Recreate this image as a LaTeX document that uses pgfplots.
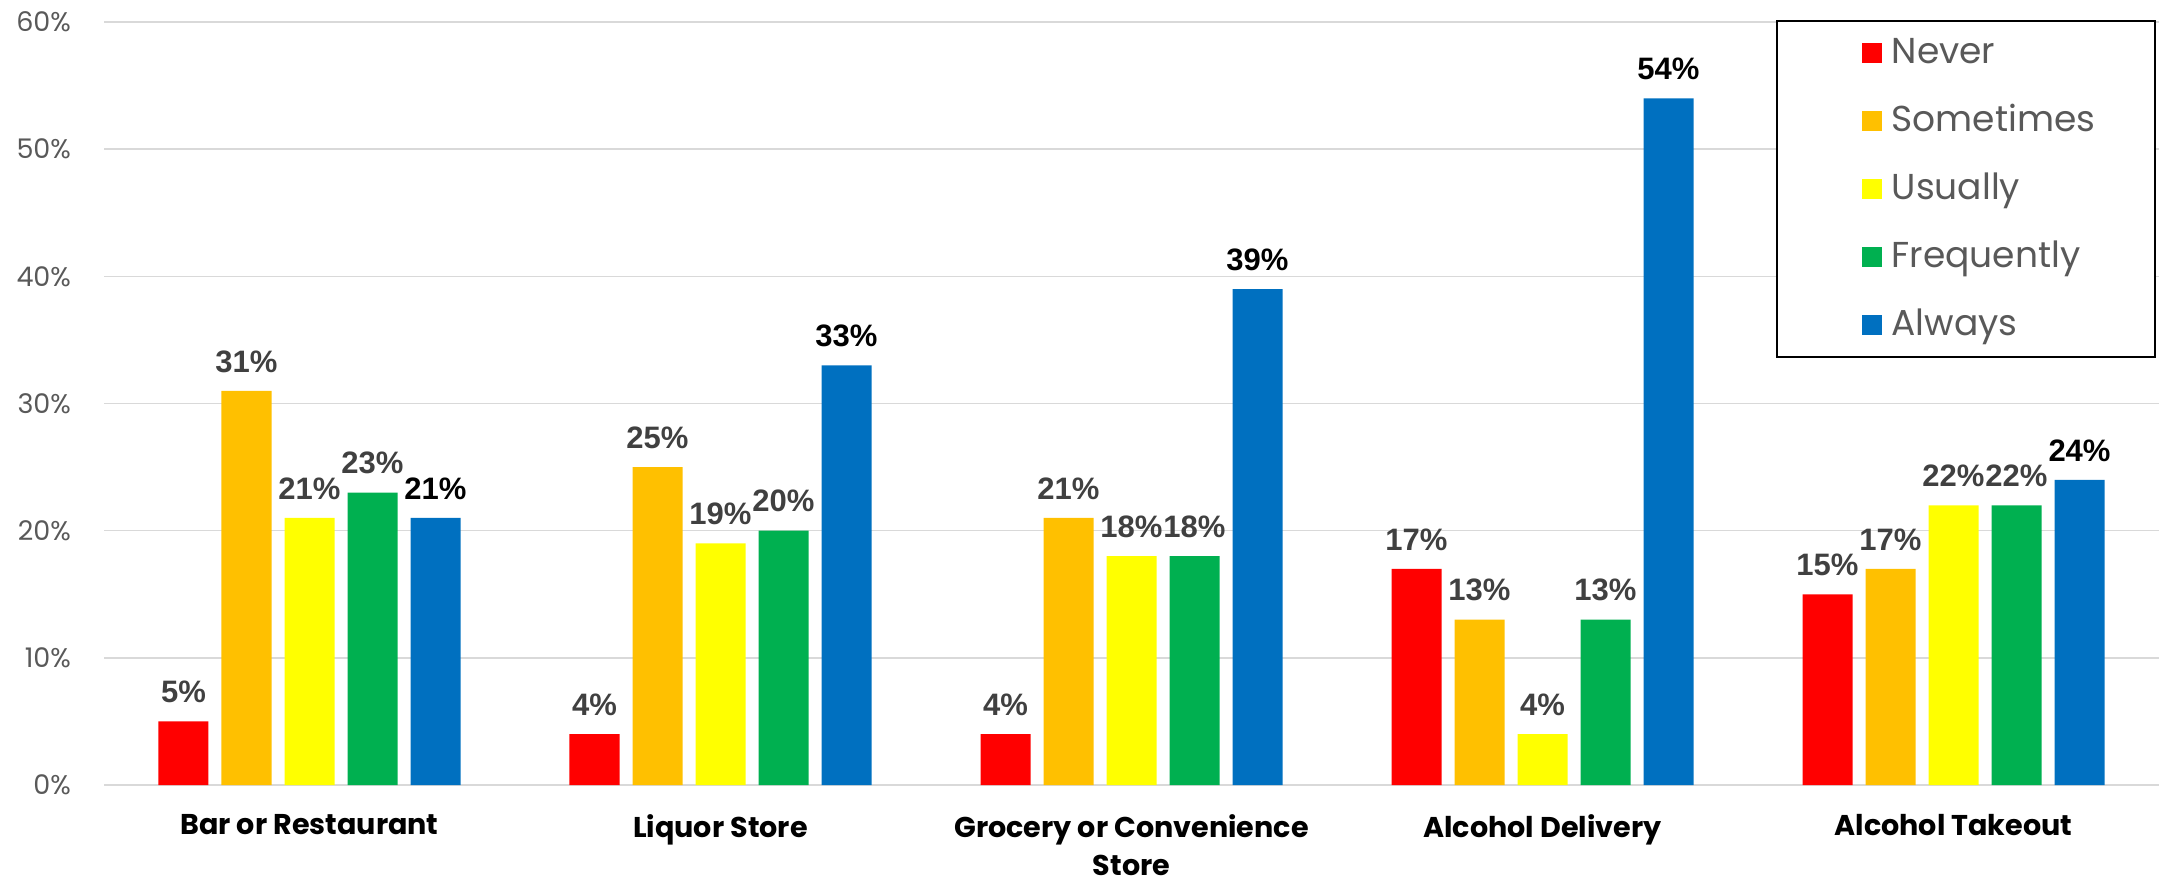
\documentclass[border=0pt]{standalone}
\usepackage{pgfplots}
\pgfplotsset{compat=1.18}
\usepackage{fontspec}
\setmainfont{Liberation Sans}
\newfontfamily\poppins{Poppins}

\definecolor{cNever}{HTML}{FF0000}
\definecolor{cSome}{HTML}{FFC000}
\definecolor{cUsual}{HTML}{FFFF00}
\definecolor{cFreq}{HTML}{00B050}
\definecolor{cAlways}{HTML}{0070C0}
\definecolor{gridgray}{HTML}{D9D9D9}
\definecolor{tickgray}{HTML}{595959}
\definecolor{labgray}{HTML}{404040}

\pgfplotsset{sq legend/.style={legend image code/.code={\path (0pt,0pt); \fill[##1] (12.5pt,-5pt) rectangle (22.5pt,5pt);}}}

\begin{document}
\begin{tikzpicture}
\begin{axis}[
  name=ax,
  scale only axis,
  width=1027.5pt, height=381.5pt,
  xmin=-0.5, xmax=4.5,
  ymin=0, ymax=60,
  ytick={0,10,...,60},
  yticklabel={\pgfmathprintnumber{\tick}\%},
  /pgf/number format/assume math mode=true,
  yticklabel style={font=\poppins\fontsize{13.5}{14}\selectfont, text=tickgray, xshift=-13pt},
  xtick={0,1,2,3,4},
  xticklabels={Bar or Restaurant, Liquor Store, {Grocery or Convenience\\Store}, Alcohol Delivery, Alcohol Takeout},
  xticklabel style={font=\poppins\bfseries\fontsize{14.3}{19}\selectfont, align=center, text=black, yshift=-11pt},
  axis lines*=left,
  y axis line style={draw=none},
  x axis line style={gridgray, line width=0.75pt},
  major tick length=0pt,
  ymajorgrids,
  grid style={gridgray, line width=0.75pt},
  ybar=6.5pt,
  bar width=25pt,
  nodes near coords={\pgfmathprintnumber{\pgfplotspointmeta}\%},
  nodes near coords style={font=\bfseries\fontsize{15.5}{15.5}\selectfont, text=labgray, anchor=south, inner sep=0pt, yshift=9pt},
  legend style={at={(0.9985,1.002)}, anchor=north east, draw=black, line width=1pt,
    font=\poppins\fontsize{18}{18}\selectfont, text=tickgray,
    inner xsep=29.75pt, inner ysep=7pt, row sep=16pt,
    nodes={text height=14pt, text depth=4pt, inner sep=0pt},
    /tikz/every odd column/.append style={column sep=5pt}},
  legend cell align=left,
]
\addplot[fill=cNever, draw=none, sq legend] coordinates {(0,5) (1,4) (2,4) (3,17) (4,15)};
\addplot[fill=cSome, draw=none, sq legend] coordinates {(0,31) (1,25) (2,21) (3,13) (4,17)};
\addplot[fill=cUsual, draw=none, sq legend] coordinates {(0,21) (1,19) (2,18) (3,4) (4,22)};
\addplot[fill=cFreq, draw=none, sq legend] coordinates {(0,23) (1,20) (2,18) (3,13) (4,22)};
\addplot[fill=cAlways, draw=none, sq legend, nodes near coords style={text=black}] coordinates {(0,21) (1,33) (2,39) (3,54) (4,24)};
\legend{Never, Sometimes, Usually, Frequently, Always}
\end{axis}
\pgfresetboundingbox
\path[use as bounding box] ([xshift=-52pt,yshift=-48pt]ax.south west) rectangle ([yshift=11pt]ax.north east);
\end{tikzpicture}
\end{document}
